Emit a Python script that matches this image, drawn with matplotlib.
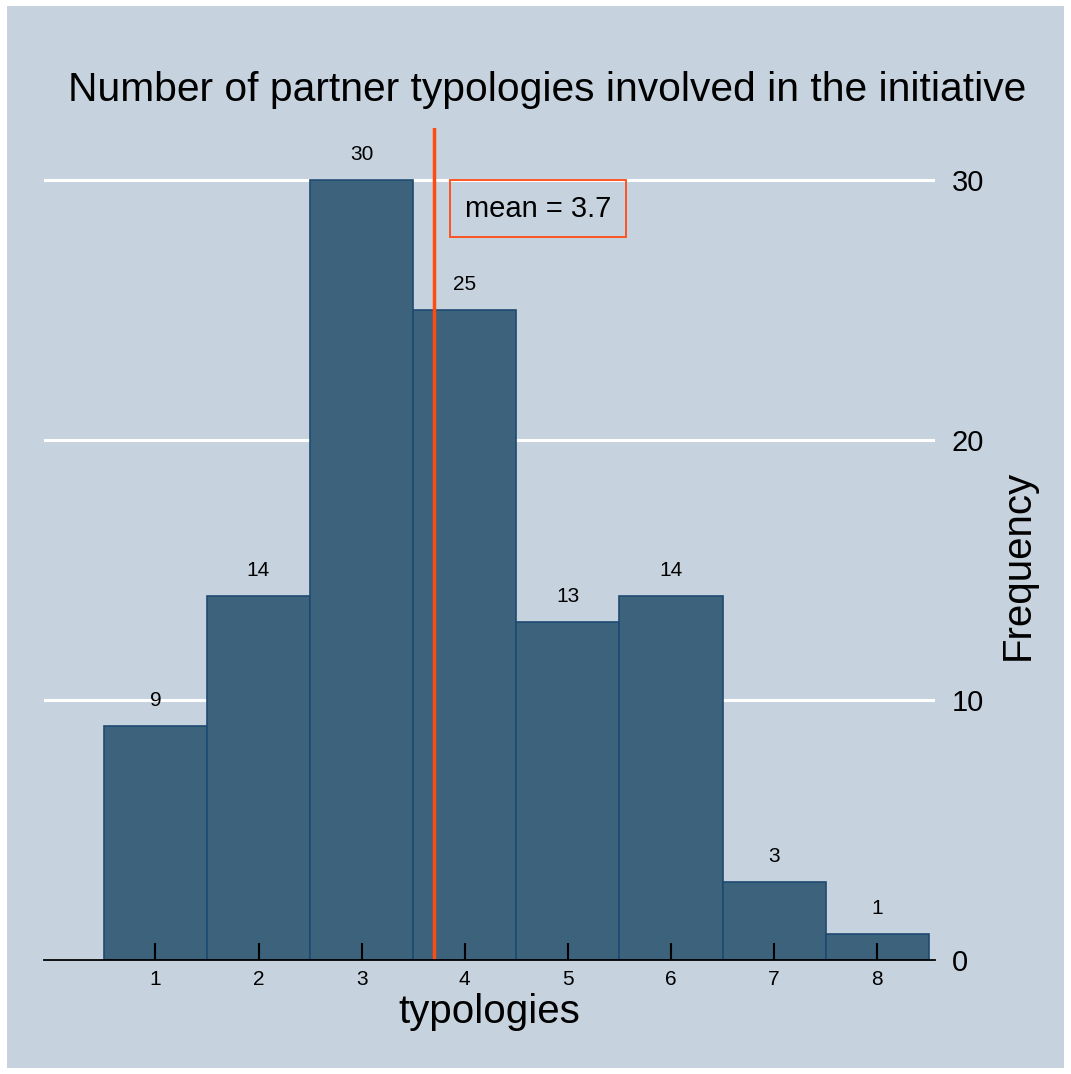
import matplotlib
matplotlib.use('Agg')
import matplotlib.pyplot as plt
from matplotlib.patches import Rectangle

plt.rcParams['font.family'] = ['Liberation Sans', 'DejaVu Sans']

# Histogram data
typologies = [1, 2, 3, 4, 5, 6, 7, 8]
frequency = [9, 14, 30, 25, 13, 14, 3, 1]
mean_value = 3.7
y_ticks = [0, 10, 20, 30]

bg = '#C6D3DF'
bar_fill = '#3D627C'
bar_edge = '#1E4A72'
mean_col = '#FF4A12'

fig = plt.figure(figsize=(10.71, 10.74), dpi=100, facecolor='white')
fig.patches.append(Rectangle((7 / 1071, 6 / 1074), 1057 / 1071, 1062 / 1074,
                             transform=fig.transFigure, facecolor=bg,
                             edgecolor='none', zorder=-10))

ax = fig.add_axes([44 / 1071, 1 - 960 / 1074, (935 - 44) / 1071, (960 - 128) / 1074])
ax.set_facecolor(bg)

ax.bar(typologies, frequency, width=1.0, color=bar_fill, edgecolor=bar_edge,
       linewidth=1.2, zorder=2)

for x, f in zip(typologies, frequency):
    ax.annotate(str(f), (x, f), xytext=(0, 11.5), textcoords='offset points',
                ha='center', va='bottom', fontsize=15)

ax.axvline(mean_value, color=mean_col, linewidth=2.5, zorder=3)
ax.text(4.71, 28.9, 'mean = %.1f' % mean_value, ha='center', va='center',
        fontsize=21,
        bbox=dict(boxstyle='square,pad=0.5', facecolor='none', edgecolor=mean_col,
                  linewidth=1.3), zorder=4)

ax.set_xlim(-0.08, 8.56)
ax.set_ylim(0, 32)
ax.set_xticks(typologies)
ax.set_yticks(y_ticks)
ax.yaxis.tick_right()
ax.grid(axis='y', color='white', linewidth=2.2, zorder=1)
ax.set_axisbelow(True)
ax.xaxis.set_zorder(5)

for s in ['top', 'left', 'right']:
    ax.spines[s].set_visible(False)
ax.spines['bottom'].set_color('black')
ax.spines['bottom'].set_linewidth(1.3)
ax.spines['bottom'].set_zorder(5)

ax.tick_params(axis='x', direction='in', length=12, width=1.5, labelsize=15, pad=7)
ax.tick_params(axis='y', length=0, labelsize=21, pad=12)

fig.text(547 / 1071, 1 - 90 / 1074, 'Number of partner typologies involved in the initiative',
         ha='center', va='center', fontsize=29.3)
fig.text(489 / 1071, 1 - 1012 / 1074, 'typologies', ha='center', va='center', fontsize=29)
fig.text(1018 / 1071, 1 - 565 / 1074, 'Frequency', ha='center', va='center',
         fontsize=29, rotation=90)

fig.savefig('out.png', dpi=100, facecolor='white')
